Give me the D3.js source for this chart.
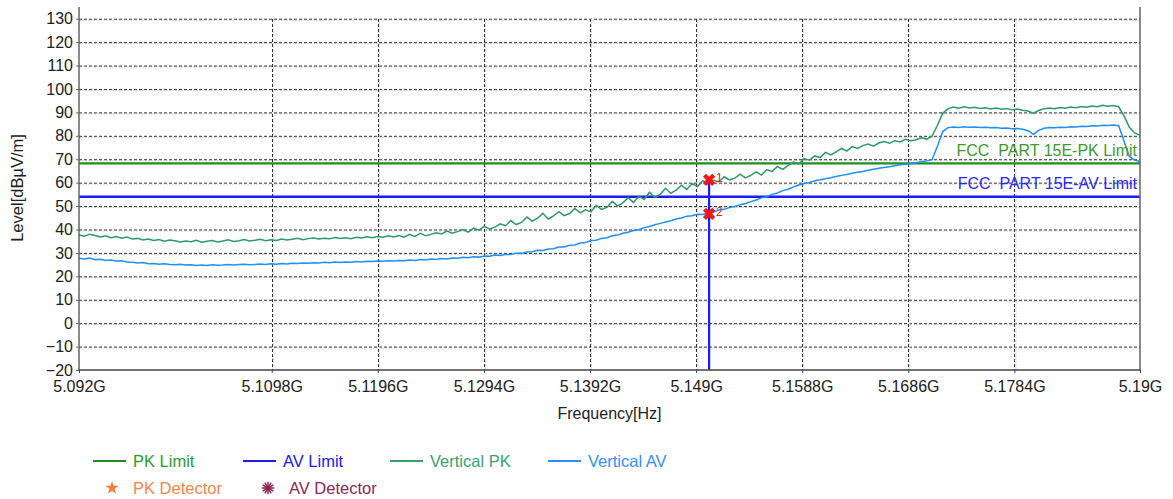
<!DOCTYPE html>
<html><head><meta charset="utf-8">
<script src="https://cdn.jsdelivr.net/npm/d3@7"></script>
<style>
html,body{margin:0;padding:0;background:#fff;}
svg{display:block;font-family:"Liberation Sans",Arial,sans-serif;}
</style></head>
<body><svg id="c" width="1173" height="499"></svg>
<script>
// ---- data ----
const sweepStart = 5.092, sweepStop = 5.19; // GHz
const xTickValues = [5.092, 5.1098, 5.1196, 5.1294, 5.1392, 5.149, 5.1588, 5.1686, 5.1784, 5.19];
const xTickLabels = ["5.092G","5.1098G","5.1196G","5.1294G","5.1392G","5.149G","5.1588G","5.1686G","5.1784G","5.19G"];
const yTickValues = [-20,-10,0,10,20,30,40,50,60,70,80,90,100,110,120,130];
const pkLimit = 68.2;
const avLimit = 54;
const verticalPK = [
37.6,37.1,38.0,37.4,36.8,37.3,36.5,37.0,36.3,36.8,
35.9,36.2,35.5,35.9,35.3,35.7,35.0,35.5,35.2,34.7,
35.1,34.8,35.4,34.6,35.0,35.3,34.7,35.1,35.6,34.9,
35.2,35.7,35.1,35.4,35.8,35.2,35.6,35.3,35.9,35.5,
35.8,36.2,35.6,36.1,36.4,35.9,36.3,36.0,36.6,36.2,
36.5,36.1,36.7,36.4,36.9,36.5,37.0,36.7,37.3,36.8,
37.4,36.7,37.9,37.0,38.4,37.3,37.9,38.6,38.1,39.3,
38.4,39.1,40.0,38.9,40.6,39.7,41.3,40.2,41.0,42.4,
41.6,43.8,42.1,43.0,45.3,43.6,44.8,46.9,44.5,45.8,
47.6,45.9,46.8,49.0,47.1,48.4,47.5,50.3,48.6,49.4,
52.0,50.1,51.4,53.6,51.5,54.2,52.8,55.9,53.6,55.0,
57.6,55.4,56.8,58.9,57.1,59.6,58.3,60.8,59.6,61.0,
60.4,62.5,61.2,61.9,63.6,62.0,63.1,64.6,63.2,65.5,
64.8,66.9,65.7,67.4,68.8,67.9,70.3,69.6,71.4,70.7,
72.9,71.8,73.1,74.6,73.5,75.4,74.6,75.8,76.5,75.6,
76.9,77.6,76.8,77.9,77.4,78.5,77.9,78.3,79.2,78.6,
79.8,84.5,89.6,91.6,92.3,91.8,92.4,91.9,92.2,91.7,
92.0,91.5,91.9,91.3,91.6,91.1,91.4,90.9,90.6,89.7,
90.8,91.6,91.9,91.6,92.1,91.8,92.3,92.0,92.5,92.2,
92.7,92.4,93.0,92.6,92.9,92.4,88.5,83.6,81.2,80.2];
const verticalAV = [
27.7,27.4,27.8,27.1,27.3,26.8,27.0,26.5,26.6,26.1,
26.0,25.7,25.9,25.4,25.5,25.2,25.4,25.0,24.9,25.1,
24.8,24.9,24.6,24.8,24.6,24.9,24.7,24.8,25.0,24.8,
25.0,25.2,24.9,25.1,25.3,25.1,25.4,25.2,25.5,25.3,
25.6,25.5,25.7,25.6,25.8,25.7,26.0,25.8,26.1,25.9,
26.1,26.0,26.3,26.1,26.4,26.3,26.5,26.4,26.7,26.5,
26.8,26.7,27.0,26.8,27.2,27.0,27.4,27.2,27.6,27.4,
27.8,27.7,28.1,27.9,28.4,28.2,28.7,28.6,29.1,28.9,
29.4,29.3,29.9,29.8,30.4,30.5,31.1,31.0,31.7,31.8,
32.5,32.5,33.3,33.4,34.2,34.4,35.3,35.4,36.2,36.5,
37.3,37.6,38.4,38.8,39.6,39.9,40.8,41.3,42.0,42.6,
43.2,43.7,44.5,44.9,45.7,45.9,46.5,46.4,47.0,47.5,
48.3,48.6,49.4,49.8,50.6,51.1,51.9,52.6,53.5,54.0,
55.0,55.6,56.6,57.2,58.2,59.0,59.6,60.1,60.8,61.2,
61.7,62.1,62.6,63.1,63.5,64.0,64.4,64.8,65.3,65.7,
66.1,66.5,66.8,67.2,67.6,67.9,68.2,68.5,68.9,69.3,
69.8,75.5,81.8,83.5,83.8,83.6,83.9,83.7,83.8,83.5,
83.6,83.4,83.5,83.2,83.3,83.0,83.1,82.8,82.2,80.6,
82.3,83.2,83.5,83.4,83.7,83.6,83.9,83.8,84.1,84.0,
84.3,84.2,84.5,84.4,84.6,84.3,77.8,71.2,69.6,69.0];
const markers = [
  {id:"1", freq:5.1502, level:61.2},
  {id:"2", freq:5.1502, level:46.7}
];
const limitLabels = [
  {text:"FCC  PART 15E-PK Limit", level:pkLimit, color:"#3d9a2a", dy:-7},
  {text:"FCC  PART 15E-AV Limit", level:avLimit, color:"#2a2aff", dy:-8}
];
const legendRow1 = [
  {name:"PK Limit", color:"#1f8f1f", tcolor:"#2e9a2e"},
  {name:"AV Limit", color:"#1a1aee", tcolor:"#2020ee"},
  {name:"Vertical PK", color:"#36a070", tcolor:"#3aa273"},
  {name:"Vertical AV", color:"#2b8fff", tcolor:"#3090ff"}
];
const legendRow2 = [
  {name:"PK Detector", color:"#ff7a3a", tcolor:"#f5864a", sym:"star"},
  {name:"AV Detector", color:"#8b1a4f", tcolor:"#8b2656", sym:"ast"}
];

// ---- layout ----
const L=79, R=1140, T=7, B=370;
const FONT = "'Liberation Sans',Arial,sans-serif";
const svg = d3.select("#c");
const x = d3.scaleLinear().domain([sweepStart, sweepStop]).range([L, R]);
const y = d3.scaleLinear().domain([-20, 135]).range([B, T]);
const n = verticalPK.length;
const freqs = d3.range(n).map(i => sweepStart + i*(sweepStop - sweepStart)/(n-1));

// gridlines
const g = svg.append("g");
const hy = yTickValues.filter(v => v > -20);
g.selectAll(".hs").data(hy).join("line")
  .attr("x1", L).attr("x2", R).attr("y1", d => y(d)+1.5).attr("y2", d => y(d)+1.5)
  .attr("stroke", "#d8d8d8").attr("stroke-width", 1).attr("stroke-dasharray", "2,1");
g.selectAll(".h").data(hy).join("line")
  .attr("x1", L).attr("x2", R).attr("y1", d => y(d)+0.5).attr("y2", d => y(d)+0.5)
  .attr("stroke", "#333").attr("stroke-width", 1).attr("stroke-dasharray", "3,2");
const vx = xTickValues.slice(1, -1);
g.selectAll(".vs").data(vx).join("line")
  .attr("x1", d => x(d)+1.5).attr("x2", d => x(d)+1.5).attr("y1", T+12).attr("y2", B)
  .attr("stroke", "#d8d8d8").attr("stroke-width", 1).attr("stroke-dasharray", "2,1");
g.selectAll(".v").data(vx).join("line")
  .attr("x1", d => Math.round(x(d))+0.5).attr("x2", d => Math.round(x(d))+0.5).attr("y1", T+12).attr("y2", B)
  .attr("stroke", "#333").attr("stroke-width", 1).attr("stroke-dasharray", "3,2");

// limit lines
svg.append("line").attr("x1", L).attr("x2", R).attr("y1", y(pkLimit)).attr("y2", y(pkLimit))
  .attr("stroke", "#1f8f1f").attr("stroke-width", 2.2);
svg.append("line").attr("x1", L).attr("x2", R).attr("y1", y(avLimit)).attr("y2", y(avLimit))
  .attr("stroke", "#1a1aff").attr("stroke-width", 2.4);

// traces
const line = d3.line().x((d,i) => x(freqs[i])).y(d => y(d));
svg.append("path").datum(verticalAV).attr("d", line)
  .attr("fill", "none").attr("stroke", "#1e8fff").attr("stroke-width", 1.5);
svg.append("path").datum(verticalPK).attr("d", line)
  .attr("fill", "none").attr("stroke", "#2e9a66").attr("stroke-width", 1.5);

// limit labels
svg.selectAll(".ll").data(limitLabels).join("text")
  .attr("x", R-3).attr("y", d => y(d.level) + d.dy).attr("text-anchor", "end")
  .attr("xml:space", "preserve").style("white-space", "pre")
  .attr("font-size", 16).attr("fill", d => d.color).text(d => d.text);

// marker line
svg.append("line").attr("x1", x(markers[0].freq)).attr("x2", x(markers[0].freq))
  .attr("y1", y(markers[0].level)).attr("y2", B)
  .attr("stroke", "#1a1aff").attr("stroke-width", 2.2);
const cross = d3.symbol().type(d3.symbolCross).size(95);
svg.selectAll(".mk").data(markers).join("path")
  .attr("d", cross)
  .attr("transform", d => `translate(${x(d.freq)},${y(d.level)}) rotate(45)`)
  .attr("fill", "#f01818");
svg.selectAll(".mt").data(markers).join("text")
  .attr("x", d => x(d.freq)+7).attr("y", d => y(d.level)+2)
  .attr("font-size", 12).attr("fill", "#e82020").text(d => d.id);

// axes
svg.append("line").attr("x1", L).attr("x2", L).attr("y1", T).attr("y2", B).attr("stroke", "#666").attr("stroke-width", 1.5);
svg.append("line").attr("x1", R).attr("x2", R).attr("y1", T).attr("y2", B).attr("stroke", "#666").attr("stroke-width", 1.5);
svg.append("line").attr("x1", L).attr("x2", R).attr("y1", B).attr("y2", B).attr("stroke", "#444").attr("stroke-width", 1.5);

const yAxis = d3.axisLeft(y).tickValues(yTickValues).tickSize(3).tickPadding(3).tickFormat(d3.format("d"));
const ya = svg.append("g").attr("transform", `translate(${L},0)`).call(yAxis);
ya.select(".domain").remove();
ya.selectAll("line").attr("stroke", "#666");
ya.selectAll("text").attr("font-size", 16).attr("fill", "#222").attr("font-family", FONT);

const xAxis = d3.axisBottom(x).tickValues(xTickValues).tickSize(3).tickPadding(8).tickFormat((d,i) => xTickLabels[i]);
const xa = svg.append("g").attr("transform", `translate(0,${B})`).call(xAxis);
xa.select(".domain").remove();
xa.selectAll("line").attr("stroke", "#444");
xa.selectAll("text").attr("font-size", 16).attr("fill", "#222").attr("font-family", FONT);

// axis titles
svg.append("text").attr("x", (L+R)/2).attr("y", 419).attr("text-anchor", "middle")
  .attr("font-size", 16).attr("fill", "#222").text("Frequency[Hz]");
svg.append("text").attr("transform", "translate(23,188) rotate(-90)").attr("text-anchor", "middle")
  .attr("font-size", 16.5).attr("fill", "#222").text("Level[dBµV/m]");

// legend
const lx1 = [93, 243, 390, 548];
const lg1 = svg.append("g");
legendRow1.forEach((d,i) => {
  lg1.append("line").attr("x1", lx1[i]).attr("x2", lx1[i]+33).attr("y1", 461).attr("y2", 461)
    .attr("stroke", d.color).attr("stroke-width", 2);
  lg1.append("text").attr("x", lx1[i]+40).attr("y", 467).attr("font-size", 16.5).attr("fill", d.tcolor).text(d.name);
});
const lx2 = [112, 268];
legendRow2.forEach((d,i) => {
  if (d.sym === "star") {
    svg.append("path").attr("d", d3.symbol().type(d3.symbolStar).size(55)())
      .attr("transform", `translate(${lx2[i]},${488})`).attr("fill", d.color);
  } else {
    [0, 30].forEach(r => {
      svg.append("path").attr("d", d3.symbol().type(d3.symbolAsterisk).size(110)())
        .attr("transform", `translate(${lx2[i]},${488}) rotate(${r})`)
        .attr("stroke", d.color).attr("stroke-width", 1.4).attr("fill", "none");
    });
  }
  svg.append("text").attr("x", lx2[i]+21).attr("y", 493.5).attr("font-size", 16.5).attr("fill", d.tcolor).text(d.name);
});
</script>
</body></html>
